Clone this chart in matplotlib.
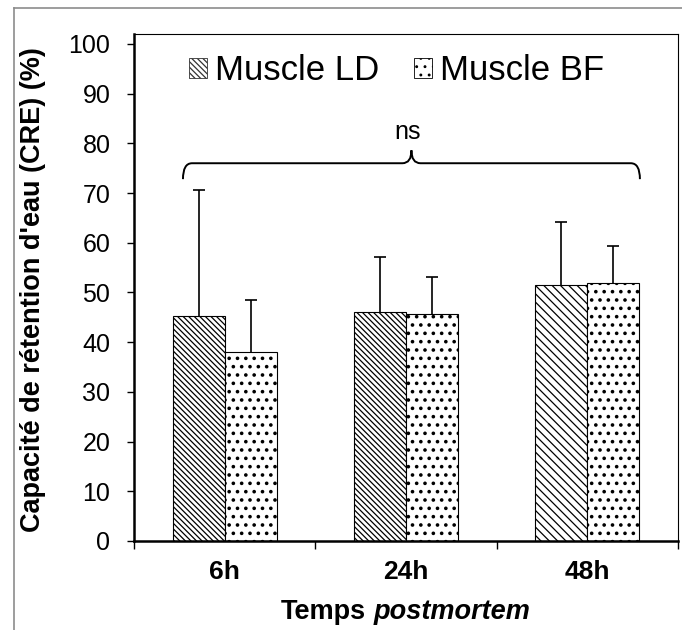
import numpy as np
import matplotlib.pyplot as plt
from matplotlib.path import Path
from matplotlib.patches import PathPatch, Patch
from matplotlib.lines import Line2D

plt.rcParams['font.family'] = ['Liberation Sans', 'DejaVu Sans']
plt.rcParams['hatch.linewidth'] = 0.9

# data
categories = ["6h", "24h", "48h"]
ld_means = [45.3, 46.1, 51.6]
ld_err = [25.3, 11.1, 12.6]
bf_means = [38.1, 45.6, 52.0]
bf_err = [10.3, 7.5, 7.4]
series_names = ["Muscle LD", "Muscle BF"]
yticks = np.arange(0, 101, 10)

# brace over all groups, in data units
brace_x0, brace_x1, brace_mid = -0.23, 2.29, 1.03
brace_lo, brace_y, brace_hi = 72.8, 76.0, 78.6
ns_y = 82.3

W, H = 682, 630
fig = plt.figure(figsize=(W / 100, H / 100), dpi=100)
ax = fig.add_axes([134 / W, 1 - 541 / H, 544 / W, 507 / H])

x = np.arange(len(categories))
bw = 0.287
ld_hatch = ['\\' * 6, '\\' * 6, '\\' * 4]

bars_ld = ax.bar(x - bw / 2, ld_means, bw, color='white', edgecolor='black',
                 linewidth=0.8, zorder=2)
for b, h in zip(bars_ld, ld_hatch):
    b.set_hatch(h)
ld_handle = Patch(facecolor='white', edgecolor='#333333', hatch='\\' * 6, lw=0.6)

# dots a bit heavier, like the reference pattern
plt.rcParams['hatch.linewidth'] = 1.4
bars_bf = ax.bar(x + bw / 2, bf_means, bw, color='white', edgecolor='black',
                 linewidth=0.8, hatch='..', zorder=2)
bf_handle = Patch(facecolor='white', edgecolor='black', hatch='..', lw=0.6)
plt.rcParams['hatch.linewidth'] = 0.9


def upper_errorbar(xs, ys, errs):
    _, caps, _ = ax.errorbar(xs, ys, yerr=[np.zeros(len(errs)), errs], fmt='none',
                             ecolor='black', elinewidth=1.2, capsize=4.5,
                             capthick=1.2, zorder=3)
    # keep only the upper cap
    for c in caps:
        if np.allclose(c.get_ydata(), ys):
            c.set_visible(False)


upper_errorbar(x - bw / 2, ld_means, ld_err)
upper_errorbar(x + bw / 2, bf_means, bf_err)

# curly brace + ns
r = 0.05
verts = [(brace_x0, brace_lo), (brace_x0, brace_y), (brace_x0 + r, brace_y),
         (brace_mid - r, brace_y), (brace_mid, brace_y), (brace_mid, brace_hi),
         (brace_mid, brace_y), (brace_mid + r, brace_y),
         (brace_x1 - r, brace_y), (brace_x1, brace_y), (brace_x1, brace_lo)]
codes = [Path.MOVETO, Path.CURVE3, Path.CURVE3,
         Path.LINETO, Path.CURVE3, Path.CURVE3,
         Path.CURVE3, Path.CURVE3,
         Path.LINETO, Path.CURVE3, Path.CURVE3]
ax.add_patch(PathPatch(Path(verts, codes), fill=False, lw=1.4, color='black',
                       clip_on=False))
ax.text(brace_mid - 0.02, ns_y, "ns", ha='center', va='center', fontsize=18)

ax.set_xlim(-0.5, 2.5)
ax.set_ylim(0, 102)
ax.set_yticks(yticks)
ax.tick_params(axis='y', direction='out', length=5, width=1, labelsize=18, pad=12)
ax.set_xticks(x)
ax.set_xticklabels(categories, fontsize=19, fontweight='bold')
ax.set_xticks(np.arange(-0.5, 3, 1), minor=True)
ax.tick_params(axis='x', which='major', length=0, pad=14)
ax.tick_params(axis='x', which='minor', direction='out', length=6, width=1)

ax.spines['left'].set_linewidth(1.8)
ax.spines['bottom'].set_linewidth(1.8)
ax.spines['top'].set_linewidth(0.8)
ax.spines['right'].set_linewidth(0.8)

fig.legend([ld_handle, bf_handle], series_names, loc='center',
           bbox_to_anchor=(397 / W, 1 - 71 / H),
           ncol=2, frameon=False, fontsize=25, handlelength=0.5, handleheight=0.5,
           handletextpad=0.25, columnspacing=1.0)

fig.text(33 / W, 1 - 290 / H, "Capacité de rétention d'eau (CRE) (%)",
         rotation=90, ha='center', va='center', fontsize=19.5, fontweight='bold')

# x label with italic part
fs_x = 19.5
t1 = fig.text(0, 1 - 619 / H, "Temps", fontsize=fs_x, fontweight='bold', va='baseline')
t2 = fig.text(0, 1 - 619 / H, "postmortem", fontsize=fs_x, fontweight='bold',
              style='italic', va='baseline')
fig.canvas.draw()
rend = fig.canvas.get_renderer()
w1 = t1.get_window_extent(rend).width
w2 = t2.get_window_extent(rend).width
gap = fs_x * 0.278 * 100 / 72
x0 = 406 - (w1 + gap + w2) / 2
t1.set_x(x0 / W)
t2.set_x((x0 + w1 + gap) / W)

# outer grey frame
fig.add_artist(Line2D([14 / W, 14 / W], [0, 1 - 8 / H], color='#8c8c8c', lw=1.2))
fig.add_artist(Line2D([14 / W, 1], [1 - 8 / H, 1 - 8 / H], color='#8c8c8c', lw=1.2))

fig.savefig("out.png", dpi=100)
